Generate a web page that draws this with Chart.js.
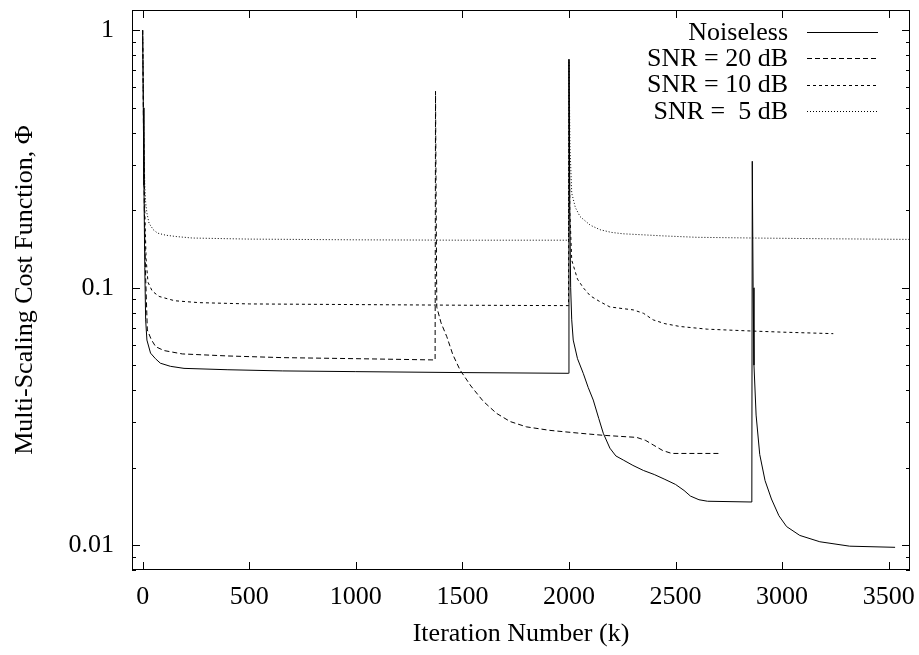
<!DOCTYPE html>
<html lang="en">
<head>
  <meta charset="UTF-8" />
  <title>Multi-Scaling Cost Function</title>
  <script src="https://cdn.jsdelivr.net/npm/chart.js"></script>
  <style>
    body { margin: 0; background: #fff; }
    canvas { display: block; }
  </style>
</head>
<body>
<canvas id="chart" width="919" height="655"></canvas>
<script>
  // iteration k / cost Phi
  const noiselessK   = [0, 3, 6, 10, 14, 20, 37, 60, 83, 130, 194, 400, 655, 1000, 1500, 1998,
                        2000, 2004, 2008, 2013, 2020, 2040, 2067, 2090, 2114, 2140, 2161, 2192, 2220, 2255, 2300, 2349, 2400, 2450, 2500, 2540, 2570, 2610, 2650, 2858,
                        2860, 2864, 2868, 2878, 2895, 2920, 2950, 2985, 3021, 3083, 3177, 3317, 3530];
  const noiselessPhi = [1, 0.5, 0.25, 0.12, 0.075, 0.0626, 0.0557, 0.053, 0.0509, 0.0495, 0.0486, 0.048, 0.0475, 0.0472, 0.0468, 0.0465,
                        0.77, 0.2, 0.1, 0.075, 0.0626, 0.053, 0.0465, 0.041, 0.0366, 0.031, 0.0272, 0.0238, 0.0222, 0.0214, 0.0204, 0.0195, 0.0188, 0.018, 0.0172, 0.0163, 0.0155, 0.015, 0.0148, 0.0147,
                        0.31, 0.1, 0.05, 0.032, 0.0225, 0.0178, 0.0151, 0.013, 0.0118, 0.0109, 0.0103, 0.0099, 0.0098];

  const snr20K   = [0, 4, 8, 14, 22, 40, 61, 100, 186, 400, 655, 1000, 1372,
                    1374, 1377, 1380, 1400, 1427, 1455, 1489, 1540, 1598, 1660, 1724, 1800, 1911, 2050, 2161, 2318, 2360, 2395, 2440, 2482, 2708];
  const snr20Phi = [1, 0.4, 0.2, 0.11, 0.0685, 0.063, 0.059, 0.057, 0.0553, 0.0543, 0.0535, 0.053, 0.0524,
                    0.58, 0.2, 0.084, 0.073, 0.0645, 0.055, 0.0479, 0.0415, 0.0362, 0.0325, 0.0302, 0.0288, 0.0279, 0.0272, 0.0267, 0.0262, 0.0255, 0.0245, 0.0233, 0.0227, 0.0227];

  const snr10K   = [0, 5, 10, 16, 25, 45, 77, 150, 264, 500, 1000, 1500, 1998,
                    2000, 2004, 2013, 2040, 2067, 2100, 2146, 2192, 2250, 2302, 2350, 2395, 2450, 2520, 2650, 2833, 3000, 3240];
  const snr10Phi = [1, 0.4, 0.2, 0.13, 0.105, 0.097, 0.0925, 0.089, 0.0875, 0.0865, 0.086, 0.0855, 0.0852,
                    0.77, 0.2, 0.128, 0.108, 0.1, 0.093, 0.0882, 0.0842, 0.083, 0.082, 0.0795, 0.075, 0.0725, 0.0707, 0.069, 0.068, 0.0672, 0.0663];

  const snr5K   = [0, 3, 6, 10, 14, 20, 30, 50, 70, 108, 160, 233, 500, 1000, 1500, 1998,
                   2000, 2005, 2013, 2030, 2052, 2100, 2146, 2200, 2255, 2380, 2442, 2600, 2864, 3200, 3640];
  const snr5Phi = [1, 0.6, 0.35, 0.25, 0.215, 0.195, 0.178, 0.168, 0.163, 0.16, 0.158, 0.156, 0.1545, 0.1535, 0.153, 0.153,
                   0.77, 0.35, 0.233, 0.205, 0.189, 0.175, 0.168, 0.164, 0.162, 0.16, 0.159, 0.157, 0.156, 0.155, 0.154];

  const seriesNames = ['Noiseless', 'SNR = 20 dB', 'SNR = 10 dB', 'SNR =  5 dB'];
  const xTicks = [0, 500, 1000, 1500, 2000, 2500, 3000, 3500];
  const yTicks = [0.01, 0.1, 1];

  const serif = '"Liberation Serif", "Times New Roman", serif';
  const fontSize = 26;

  function pts(k, phi) {
    return k.map((x, i) => ({ x, y: phi[i] }));
  }

  const dashes = [[], [5, 3], [3, 3], [1, 2]];
  const series = [[noiselessK, noiselessPhi], [snr20K, snr20Phi], [snr10K, snr10Phi], [snr5K, snr5Phi]];

  const datasets = series.map((s, i) => ({
    label: seriesNames[i],
    data: pts(s[0], s[1]),
    borderColor: '#000',
    borderWidth: 1,
    borderDash: dashes[i],
    pointRadius: 0,
    tension: 0,
    fill: false
  }));

  // gnuplot-ish frame, inward ticks and right-aligned key
  const framePlugin = {
    id: 'frame',
    afterDraw(chart) {
      const { ctx, chartArea: a, scales: { x, y } } = chart;
      ctx.save();
      ctx.strokeStyle = '#000';
      ctx.lineWidth = 1;
      ctx.setLineDash([]);
      ctx.strokeRect(a.left + 0.5, a.top + 0.5, a.right - a.left - 1, a.bottom - a.top - 1);

      ctx.beginPath();
      xTicks.forEach(v => {
        const px = Math.round(x.getPixelForValue(v)) + 0.5;
        ctx.moveTo(px, a.bottom); ctx.lineTo(px, a.bottom - 8);
        ctx.moveTo(px, a.top); ctx.lineTo(px, a.top + 8);
      });
      const tickY = (v, len) => {
        if (v < y.min || v > y.max) return;
        const py = Math.round(y.getPixelForValue(v)) + 0.5;
        ctx.moveTo(a.left, py); ctx.lineTo(a.left + len, py);
        ctx.moveTo(a.right, py); ctx.lineTo(a.right - len, py);
      };
      yTicks.forEach(v => tickY(v, 8));
      [0.001, 0.01, 0.1, 1].forEach(d => {
        for (let m = 2; m <= 9; m++) tickY(d * m, 4);
      });
      ctx.stroke();

      // key
      ctx.font = fontSize + 'px ' + serif;
      ctx.fillStyle = '#000';
      ctx.textAlign = 'right';
      ctx.textBaseline = 'middle';
      chart.data.datasets.forEach((ds, i) => {
        const cy = a.top + 22 + i * 26.3;
        ctx.fillText(ds.label, a.right - 122, cy + 1);
        ctx.beginPath();
        ctx.setLineDash(ds.borderDash);
        ctx.moveTo(a.right - 103, Math.round(cy) + 0.5);
        ctx.lineTo(a.right - 32, Math.round(cy) + 0.5);
        ctx.stroke();
      });
      ctx.restore();
    }
  };

  new Chart(document.getElementById('chart'), {
    type: 'line',
    data: { datasets },
    plugins: [framePlugin],
    options: {
      responsive: false,
      animation: false,
      layout: { padding: { top: 10, right: 9, left: 0, bottom: 0 } },
      plugins: {
        legend: { display: false },
        tooltip: { enabled: false }
      },
      scales: {
        x: {
          type: 'linear',
          min: -50,
          max: 3600,
          afterBuildTicks: s => { s.ticks = xTicks.map(v => ({ value: v })); },
          afterFit: s => { s.height = 85; s.paddingLeft = 0; s.paddingRight = 0; },
          grid: { display: false, drawTicks: false },
          border: { display: false },
          ticks: {
            padding: 12,
            maxRotation: 0,
            autoSkip: false,
            color: '#000',
            font: { family: serif, size: fontSize },
            callback: v => String(v)
          },
          title: {
            display: true,
            text: 'Iteration Number (k)',
            color: '#000',
            font: { family: serif, size: fontSize },
            padding: { top: 0, bottom: 5 }
          }
        },
        y: {
          type: 'logarithmic',
          min: 0.008,
          max: 1.2,
          afterBuildTicks: s => { s.ticks = yTicks.map(v => ({ value: v })); },
          afterFit: s => { s.width = 132; s.paddingTop = 0; s.paddingBottom = 0; },
          grid: { display: false, drawTicks: false },
          border: { display: false },
          ticks: {
            padding: 18,
            autoSkip: false,
            color: '#000',
            font: { family: serif, size: fontSize },
            callback: v => String(v)
          },
          title: {
            display: true,
            text: 'Multi-Scaling Cost Function, Φ',
            color: '#000',
            font: { family: serif, size: fontSize },
            padding: { top: 10, bottom: 0 }
          }
        }
      }
    }
  });
</script>
</body>
</html>
